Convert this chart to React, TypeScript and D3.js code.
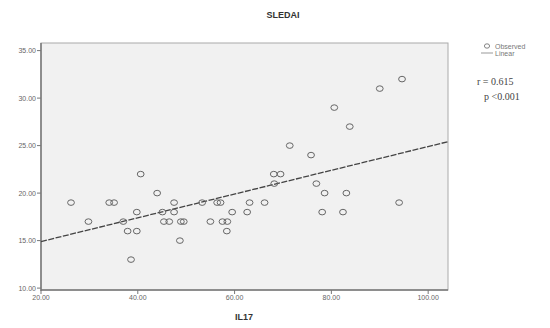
import React from "react";
import * as d3 from "d3";

const il17 = [26.2, 29.8, 34.1, 35.1, 37, 37.9, 39.8, 38.6, 39.8, 40.6, 44, 45.1, 45.4, 46.5, 47.5, 47.5, 48.9, 49.5, 48.7, 53.3, 56.4, 57.1, 55, 57.5, 58.5, 58.4, 59.5, 62.6, 63.1, 66.2, 68.1, 69.5, 68.2, 71.4, 75.8, 76.9, 78.6, 78.1, 80.6, 82.4, 83.1, 83.8, 90, 94.6, 94];
const sledai = [19, 17, 19, 19, 17, 16, 16, 13, 18, 22, 20, 18, 17, 17, 19, 18, 17, 17, 15, 19, 19, 19, 17, 17, 17, 16, 18, 18, 19, 19, 22, 22, 21, 25, 24, 21, 20, 18, 29, 18, 20, 27, 31, 32, 19];
const xTicks = [20, 40, 60, 80, 100];
const yTicks = [10, 15, 20, 25, 30, 35];
const fitIntercept = 12.4;
const fitSlope = 0.125;

export default function App() {
  const left = 41, right = 448, top = 43, bottom = 290;
  const x = d3.scaleLinear().domain([20, 104.1]).range([left, right]);
  const y = d3.scaleLinear().domain([9.8, 35.8]).range([bottom, top]);
  const xd = x.domain();
  const line = d3.line<number>().x((d) => x(d)).y((d) => y(fitIntercept + fitSlope * d));
  const fmt = d3.format(".2f");
  return (
    <svg width={550} height={328} style={{ position: "absolute", left: 0, top: 0, background: "#fff" }}>
      <text x={283} y={18} textAnchor="middle" fontFamily="Liberation Sans, Arial" fontWeight="bold" fontSize={9} fill="#333">SLEDAI</text>
      <rect x={left} y={top} width={right - left} height={bottom - top} fill="#f1f1f1" stroke="#aaa" strokeWidth={1} />
      <line x1={left} x2={left} y1={top} y2={bottom + 1} stroke="#777" strokeWidth={1.5} />
      <line x1={left} x2={right} y1={bottom} y2={bottom} stroke="#777" strokeWidth={1.5} />
      {yTicks.map((t) => (
        <g key={"y" + t}>
          <line x1={left - 4} x2={left} y1={y(t)} y2={y(t)} stroke="#777" />
          <text x={left - 5} y={y(t) + 2.5} textAnchor="end" fontFamily="Liberation Sans, Arial" fontSize={7} fill="#666">{fmt(t)}</text>
        </g>
      ))}
      {xTicks.map((t) => (
        <g key={"x" + t}>
          <line x1={x(t)} x2={x(t)} y1={bottom} y2={bottom + 4} stroke="#777" />
          <text x={x(t)} y={bottom + 10} textAnchor="middle" fontFamily="Liberation Sans, Arial" fontSize={7} fill="#666">{fmt(t)}</text>
        </g>
      ))}
      <text x={244} y={320} textAnchor="middle" fontFamily="Liberation Sans, Arial" fontWeight="bold" fontSize={9} fill="#333">IL17</text>
      <path d={line([xd[0], xd[1]]) || ""} stroke="#444" strokeWidth={1.3} fill="none" strokeDasharray="6,1.5" />
      {il17.map((v, i) => (
        <ellipse key={i} cx={x(v)} cy={y(sledai[i])} rx={3.4} ry={2.8} fill="none" stroke="#666" strokeWidth={1} />
      ))}
      <ellipse cx={487} cy={46} rx={2.6} ry={2.2} fill="none" stroke="#777" strokeWidth={0.9} />
      <text x={495} y={48.5} fontFamily="Liberation Sans, Arial" fontSize={7} fill="#777">Observed</text>
      <line x1={481} x2={493} y1={53} y2={53} stroke="#999" strokeWidth={1} />
      <text x={495} y={55.5} fontFamily="Liberation Sans, Arial" fontSize={7} fill="#777">Linear</text>
      <text x={477} y={85} fontFamily="Liberation Serif, Times New Roman" fontSize={10} fill="#444">r = 0.615</text>
      <text x={484} y={100} fontFamily="Liberation Serif, Times New Roman" fontSize={10} fill="#444">p &lt;0.001</text>
    </svg>
  );
}
